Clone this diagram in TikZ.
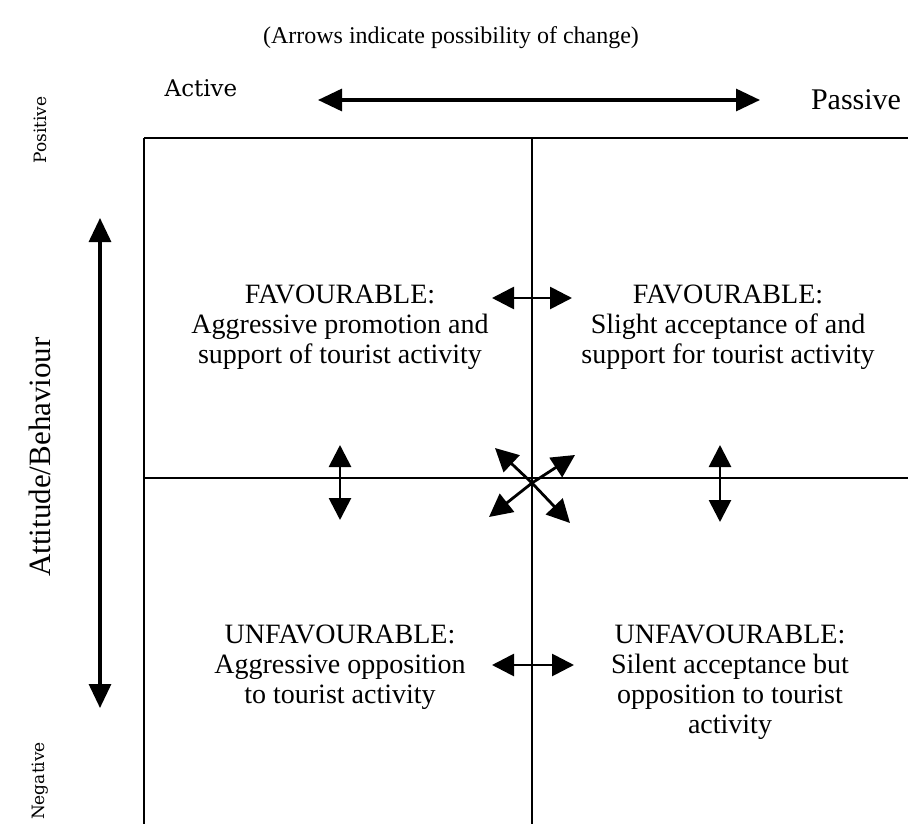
\documentclass[tikz,border=0pt]{standalone}
\usepackage{fontspec}
\setmainfont{Liberation Serif}
\newfontfamily\labelfont{DejaVu Serif}
\usetikzlibrary{arrows.meta}
\begin{document}
\begin{tikzpicture}[x=1pt,y=-1pt,
  grid/.style={line width=2.6pt},
  twoway/.style={line width=2.8pt,{Triangle[length=22pt,width=22pt]}-{Triangle[length=22pt,width=22pt]}},
  axis/.style={line width=3.2pt,{Triangle[length=24pt,width=22pt]}-{Triangle[length=24pt,width=22pt]}},
  oneway/.style={line width=2.8pt,-{Triangle[length=23pt,width=23pt]}},
  quad/.style={align=center,inner sep=0pt,font=\fontsize{28}{30}\selectfont},
  side/.style={inner sep=0pt,rotate=90}
]
\useasboundingbox (0,0) rectangle (908,824);

% heading and horizontal axis
\node[inner sep=0pt,font=\fontsize{24}{28}\selectfont] (title) at (451,38) {(Arrows indicate possibility of change)};
\node[inner sep=0pt,font=\labelfont\fontsize{23}{26}\selectfont] (active) at (201,88) {Active};
\node[inner sep=0pt,font=\fontsize{30}{32}\selectfont] (passive) at (856,100) {Passive};
\coordinate (hL) at (318,100);
\coordinate (hR) at (760,100);
\draw[axis] (hL) -- (hR);

% grid
\coordinate (tl) at (144,138);
\coordinate (tr) at (908,138);
\coordinate (tm) at (532,138);
\coordinate (bl) at (144,824);
\coordinate (bm) at (532,824);
\coordinate (ml) at (144,478);
\coordinate (mr) at (908,478);
\draw[grid] (tl) -- (tr);
\draw[grid] (tl) -- (bl);
\draw[grid] (tm) -- (bm);
\draw[grid] (ml) -- (mr);

% vertical axis
\node[side,font=\labelfont\fontsize{17}{20}\selectfont] (pos) at (40,130) {Positive};
\node[side,font=\fontsize{31}{34}\selectfont] (att) at (40,457) {Attitude/Behaviour};
\node[side,font=\labelfont\fontsize{17}{20}\selectfont] (neg) at (40,781) {Negative};
\coordinate (vT) at (100,218);
\coordinate (vB) at (100,708);
\draw[axis] (vT) -- (vB);

% quadrants
\node[quad] (q1) at (340,327) {FAVOURABLE:\\Aggressive promotion and\\support of tourist activity};
\node[quad] (q2) at (728,327) {FAVOURABLE:\\Slight acceptance of and\\support for tourist activity};
\node[quad] (q3) at (340,667) {UNFAVOURABLE:\\Aggressive opposition\\to tourist activity};
\node[quad] (q4) at (730,682) {UNFAVOURABLE:\\Silent acceptance but\\opposition to tourist\\activity};

% change arrows
\coordinate (a1) at (492,298);
\coordinate (a2) at (572,298);
\draw[twoway] (a1) -- (a2);
\coordinate (b1) at (492,665);
\coordinate (b2) at (574,665);
\draw[twoway] (b1) -- (b2);
\coordinate (c1) at (340,445);
\coordinate (c2) at (340,520);
\draw[twoway] (c1) -- (c2);
\coordinate (d1) at (720,445);
\coordinate (d2) at (720,522);
\draw[twoway] (d1) -- (d2);

\coordinate (x0) at (532,483);
\coordinate (xnw) at (495,448);
\coordinate (xne) at (575,455);
\coordinate (xsw) at (489,517);
\coordinate (xse) at (570,523);
\draw[oneway] (x0) -- (xnw);
\draw[oneway] (x0) -- (xne);
\draw[oneway] (x0) -- (xsw);
\draw[oneway] (x0) -- (xse);
\end{tikzpicture}
\end{document}
